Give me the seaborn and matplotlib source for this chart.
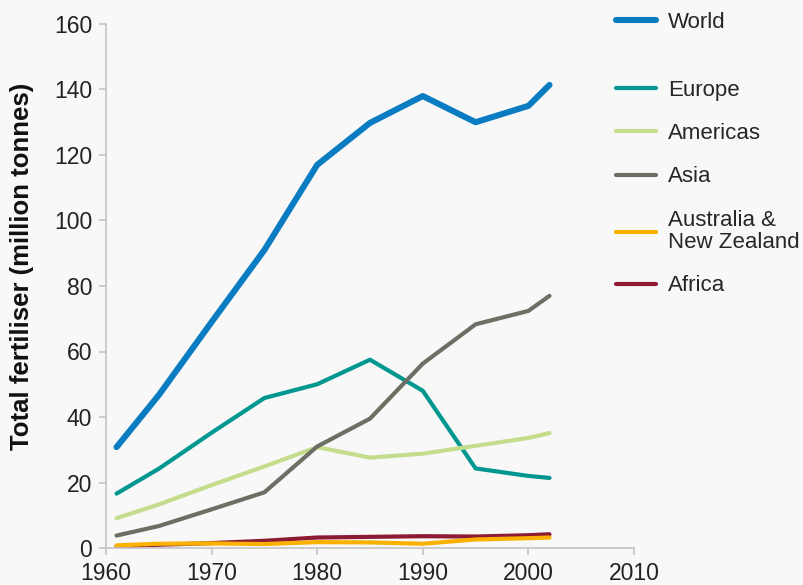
import pandas as pd
import seaborn as sns
import matplotlib.pyplot as plt
from matplotlib.lines import Line2D

years = [1961, 1965, 1970, 1975, 1980, 1985, 1990, 1995, 2000, 2002]
world = [30.8, 46.7, 69.0, 91.0, 117.0, 129.8, 138.0, 130.0, 135.0, 141.4]
europe = [16.6, 24.2, 35.2, 45.8, 50.0, 57.5, 48.0, 24.3, 22.0, 21.4]
americas = [9.1, 13.3, 19.2, 24.9, 30.8, 27.6, 28.8, 31.2, 33.6, 35.1]
asia = [3.8, 6.7, 11.8, 17.0, 31.0, 39.5, 56.3, 68.3, 72.4, 77.0]
australia_nz = [0.8, 1.3, 1.4, 1.2, 1.8, 1.7, 1.3, 2.6, 3.0, 3.2]
africa = [0.5, 1.0, 1.5, 2.2, 3.2, 3.4, 3.6, 3.5, 3.9, 4.2]

regions = ['World', 'Europe', 'Americas', 'Asia', 'Australia &\nNew Zealand', 'Africa']
series = [world, europe, americas, asia, australia_nz, africa]
colors = ['#0a7cc1', '#009790', '#c4dd8d', '#6c7064', '#fbb100', '#8d1a33']
palette = dict(zip(regions, colors))

rows = []
for name, vals in zip(regions, series):
    for yr, v in zip(years, vals):
        rows.append({'Year': yr, 'Region': name, 'Value': v})
df = pd.DataFrame(rows)

sns.set_style('ticks')
plt.rcParams['font.family'] = ['Liberation Sans', 'DejaVu Sans']

bg = '#f8f8f8'
fig = plt.figure(figsize=(8.04, 5.85), dpi=100, facecolor=bg)
ax = fig.add_axes([106 / 804, 1 - 548 / 585, 528 / 804, 524 / 585], facecolor=bg)

# draw world last so it sits on top
draw_order = ['Europe', 'Americas', 'Asia', 'Africa', 'Australia &\nNew Zealand', 'World']
for name in draw_order:
    lw = 4.4 if name == 'World' else 3.0
    sns.lineplot(data=df[df['Region'] == name], x='Year', y='Value', color=palette[name],
                 linewidth=lw, ax=ax, legend=False, solid_capstyle='round')

ax.set_xlim(1960, 2010)
ax.set_ylim(0, 160)
ax.set_xticks([1960, 1970, 1980, 1990, 2000, 2010])
ax.set_yticks(range(0, 161, 20))
ax.set_xlabel('')
ax.set_ylabel('Total fertiliser (million tonnes)', fontsize=18.5, fontweight='bold', color='#111111')
ax.yaxis.set_label_coords(-0.136, 0.538)

for s in ['top', 'right']:
    ax.spines[s].set_visible(False)
for s in ['left', 'bottom']:
    ax.spines[s].set_color('#c4c4c4')
    ax.spines[s].set_linewidth(1.2)
ax.tick_params(colors='#c4c4c4', labelcolor='#222222', labelsize=16.5, length=5, width=1.2, pad=5)

h_world = [Line2D([], [], color=palette['World'], linewidth=4.4, solid_capstyle='round')]
leg1 = fig.legend(h_world, ['World'], loc='upper left', bbox_to_anchor=(616 / 804, 1 - 12 / 585),
                  frameon=False, borderpad=0, borderaxespad=0, fontsize=16,
                  handlelength=1.8, handletextpad=0.55)

others = regions[1:]
h_oth = [Line2D([], [], color=palette[n], linewidth=3.0, solid_capstyle='round') for n in others]
leg2 = fig.legend(h_oth, others, loc='upper left', bbox_to_anchor=(616 / 804, 1 - 80 / 585),
                  frameon=False, borderpad=0, borderaxespad=0, fontsize=16,
                  handlelength=1.8, handletextpad=0.55, labelspacing=1.0)
for t in leg2.get_texts():
    t.set_linespacing(1.1)

fig.savefig('out.png', dpi=100, facecolor=bg)
